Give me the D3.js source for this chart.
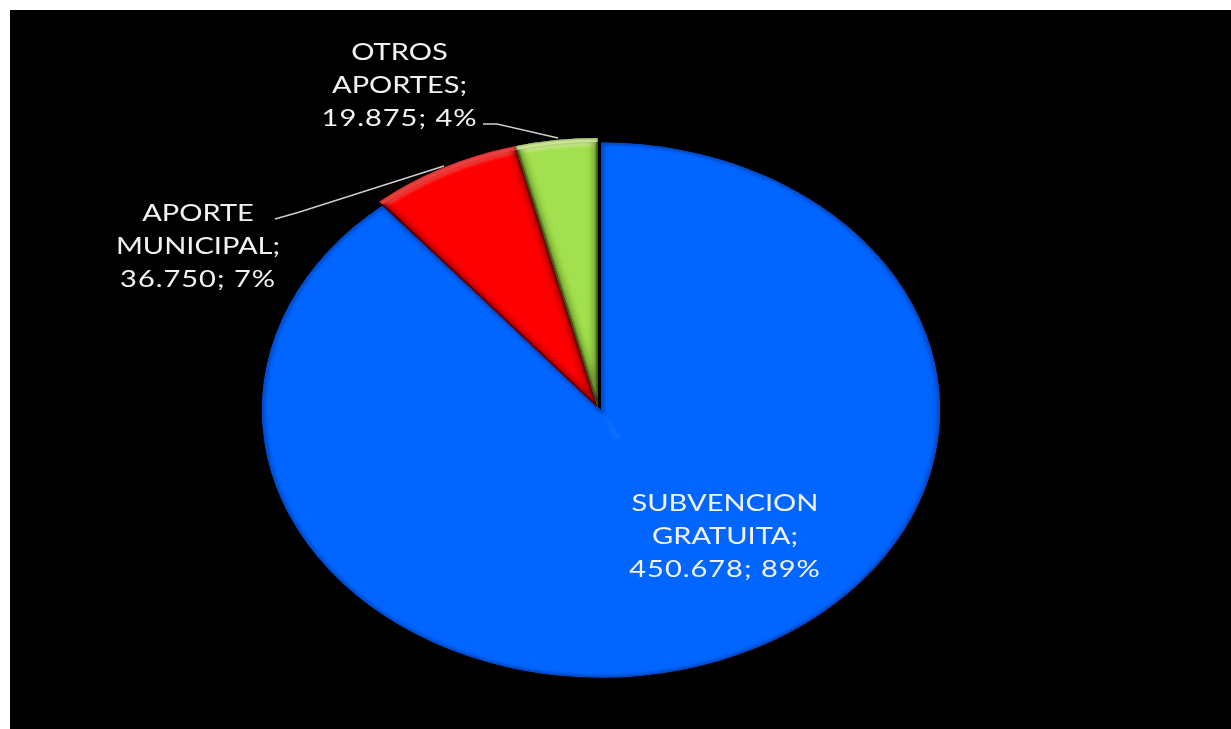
<!DOCTYPE html>
<html><head><meta charset="utf-8">
<script src="https://cdnjs.cloudflare.com/ajax/libs/d3/7.9.0/d3.min.js"></script>
<style>html,body{margin:0;padding:0;background:#fff;overflow:hidden}svg{display:block}</style>
</head><body><div id="c"></div>
<script>
const categories = ["SUBVENCION GRATUITA", "APORTE MUNICIPAL", "OTROS APORTES"];
const values = [450678, 36750, 19875];
const colors = ["#0066ff", "#ff0000", "#a2e04f"];
const rims = ["#0046c4", "#8a0000", "#5c7d20"];
const lights = ["#0066ff", "#ff4a4a", "#d8f3a0"];
const labelLines = [
  ["SUBVENCION", "GRATUITA;", "450.678; 89%"],
  ["APORTE", "MUNICIPAL;", "36.750; 7%"],
  ["OTROS", "APORTES;", "19.875; 4%"]
];
const W = 1231, H = 729;
const svg = d3.select("#c").append("svg").attr("width", W).attr("height", H);
svg.append("rect").attr("x", 10).attr("y", 10).attr("width", W - 10).attr("height", H - 10).attr("fill", "#000");
const defs = svg.append("defs");
[["b1", 1], ["b2", 2], ["b3", 3]].forEach(([id, s]) => defs.append("filter").attr("id", id)
  .attr("x", "-20%").attr("y", "-20%").attr("width", "140%").attr("height", "140%")
  .append("feGaussianBlur").attr("stdDeviation", s));
defs.append("filter").attr("id", "t").append("feGaussianBlur").attr("stdDeviation", 0.5);

const R = 339;
const pie = d3.pie().sort(null).startAngle(0).endAngle(2 * Math.PI);
const arcs = pie(values);
const arc = d3.arc().innerRadius(0).outerRadius(R);
const centres = [[601, 410, 267.5 / R], [598, 408, 270 / R], [598, 408, 270 / R]];

arcs.forEach((d, i) => {
  const [cx, cy, k] = centres[i];
  const g = svg.append("g").attr("transform", `translate(${cx},${cy}) scale(1,${k})`);
  const path = arc(d);
  defs.append("clipPath").attr("id", "s" + i).append("path").attr("d", path);
  g.append("path").attr("d", path).attr("fill", colors[i]);
  const inner = g.append("g").attr("clip-path", `url(#s${i})`);
  if (i === 0) {
    inner.append("path").attr("d", path).attr("fill", "none")
      .attr("stroke", rims[i]).attr("stroke-width", 6).attr("filter", "url(#b2)");
    inner.append("path").attr("d", d3.arc().innerRadius(0).outerRadius(40)
      .startAngle(Math.PI * 0.84).endAngle(Math.PI * 0.89)())
      .attr("fill", "#1a7cff").attr("opacity", 0.6).attr("filter", "url(#b2)");
  } else {
    inner.append("path").attr("d", d3.arc().innerRadius(R - 9).outerRadius(R)(d))
      .attr("fill", lights[i]).attr("filter", "url(#b2)");
    inner.append("path").attr("d", path).attr("fill", "none")
      .attr("stroke", rims[i]).attr("stroke-width", 10).attr("filter", "url(#b3)").attr("opacity", 0.7);
    inner.append("path").attr("d", path).attr("fill", "none")
      .attr("stroke", "#000").attr("stroke-width", 3).attr("opacity", 0.65).attr("filter", "url(#b1)");
    inner.append("path").attr("d", d3.arc().innerRadius(R - 5).outerRadius(R + 2)(d))
      .attr("fill", lights[i]).attr("opacity", 0.75).attr("filter", "url(#b1)");
  }
});

// Leader lines
const leader = d3.line();
const leaders = [
  [[275, 219], [298, 212.5], [444, 166]],
  [[483, 124], [497, 124], [558, 138]]
];
svg.selectAll("path.leader").data(leaders).join("path").attr("class", "leader")
  .attr("d", leader).attr("fill", "none").attr("stroke", "#cfcfcf").attr("stroke-width", 1.4);

// Labels: the reference's text is stretched sideways
const labelAnchors = [[725, 511], [198, 221], [399.5, 60]];
const lineGap = 33;
labelLines.forEach((lines, i) => {
  const g = svg.append("g").attr("transform", `translate(${labelAnchors[i][0]},${labelAnchors[i][1]}) scale(1.21,1)`);
  const t = g.append("text").attr("text-anchor", "middle")
    .attr("font-family", "Lato, 'Open Sans', sans-serif").attr("font-size", 24)
    .attr("fill", "#f2f2f2").attr("filter", "url(#t)");
  lines.forEach((s, j) => t.append("tspan")
    .attr("x", 0).attr("y", j * lineGap)
    .attr("letter-spacing", j === 2 ? 0.8 : 0).text(s));
});
</script></body></html>
